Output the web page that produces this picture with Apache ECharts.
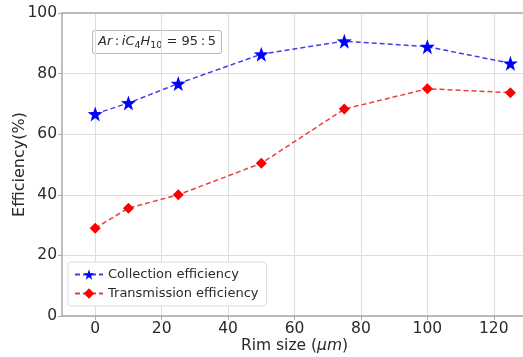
<!DOCTYPE html>
<html>
<head>
<meta charset="utf-8">
<script src="https://cdn.jsdelivr.net/npm/echarts@6/dist/echarts.min.js"></script>
<style>
  html, body { margin: 0; padding: 0; background: #fff; }
  #chart { width: 523px; height: 357px; }
</style>
</head>
<body>
<div id="chart"></div>
<script>
const rimSize = [0, 10, 25, 50, 75, 100, 125]
const collection = [66.7, 70.3, 76.7, 86.4, 90.7, 88.9, 83.4]
const transmission = [29.0, 35.6, 40.0, 50.4, 68.3, 75.0, 73.7]
const xTicks = [0, 20, 40, 60, 80, 100, 120]

const myChart = echarts.init(document.getElementById('chart'))

const axisText = { color: '#2a2a2a', fontSize: 15.5, fontFamily: 'DejaVu Sans' }
const spine = { color: '#aaa', width: 1.5 }

const option = {
  animation: false,
  grid: { left: 62, right: -4, top: 13, bottom: 41, outerBoundsMode: 'none', containLabel: false },
  xAxis: [
    {
      type: 'value',
      min: -10,
      max: 130,
      interval: 10,
      name: '{n|Rim size (}{i|μm}{n|)}',
      nameLocation: 'middle',
      nameGap: 22,
      nameMoveOverlap: false,
      nameTextStyle: {
        rich: {
          n: { fontSize: 15.5, color: '#2a2a2a', fontFamily: 'DejaVu Sans' },
          i: { fontSize: 15.5, color: '#2a2a2a', fontFamily: 'DejaVu Sans', fontStyle: 'italic' },
        },
      },
      axisLine: { onZero: false, lineStyle: spine },
      axisTick: { show: true, length: 4, lineStyle: { color: '#aaa' }, customValues: xTicks },
      axisLabel: { ...axisText, margin: 5, customValues: xTicks },
      splitLine: { lineStyle: { color: '#ddd', width: 1 } },
    },
    {
      type: 'value',
      position: 'top',
      min: -10,
      max: 130,
      axisLine: { show: true, onZero: false, lineStyle: spine },
      axisTick: { show: false },
      axisLabel: { show: false },
      splitLine: { show: false },
    },
  ],
  yAxis: {
    type: 'value',
    min: 0,
    max: 100,
    interval: 20,
    name: 'Efficiency(%)',
    nameLocation: 'middle',
    nameGap: 34,
    nameMoveOverlap: false,
    nameTextStyle: { ...axisText, fontSize: 16 },
    axisLine: { show: true, onZero: false, lineStyle: spine },
    axisTick: { show: true, length: 4, lineStyle: { color: '#aaa' } },
    axisLabel: { ...axisText, margin: 5 },
    splitLine: { lineStyle: { color: '#ddd', width: 1 } },
  },
  legend: {
    orient: 'vertical',
    left: 68,
    top: 262,
    padding: [6, 8, 6, 6],
    itemGap: 6,
    itemWidth: 28,
    itemHeight: 13,
    backgroundColor: '#fff',
    borderColor: '#ddd',
    borderWidth: 1,
    borderRadius: 3,
    textStyle: { color: '#2a2a2a', fontSize: 13, fontFamily: 'DejaVu Sans' },
    data: ['Collection efficiency', 'Transmission efficiency'],
  },
  graphic: [
    {
      type: 'text',
      left: 92,
      top: 30,
      style: {
        text: '{i|Ar}{n|\u2009:\u2009}{i|iC}{s|4}{i|H}{s|10}{n| = 95\u2009:\u20095}',
        backgroundColor: '#fff',
        borderColor: '#bbb',
        borderWidth: 1,
        borderRadius: 2,
        padding: [2, 5, 2, 5],
        rich: {
          n: { fontSize: 13, lineHeight: 18, fill: '#2a2a2a', fontFamily: 'DejaVu Sans' },
          i: { fontSize: 13, lineHeight: 18, fill: '#2a2a2a', fontFamily: 'DejaVu Sans', fontStyle: 'italic' },
          s: { fontSize: 9.5, lineHeight: 12, verticalAlign: 'bottom', fill: '#2a2a2a', fontFamily: 'DejaVu Sans' },
        },
      },
    },
  ],
  series: [
    {
      name: 'Collection efficiency',
      type: 'line',
      data: rimSize.map((x, i) => [x, collection[i]]),
      symbol: 'path://M0,-10 L2.35,-3.24 L9.51,-3.09 L3.8,1.24 L5.88,8.09 L0,4 L-5.88,8.09 L-3.8,1.24 L-9.51,-3.09 L-2.35,-3.24 Z',
      symbolSize: 15,
      itemStyle: { color: '#0000ff' },
      lineStyle: { color: '#4040e8', type: [5, 3], width: 1.5 },
    },
    {
      name: 'Transmission efficiency',
      type: 'line',
      data: rimSize.map((x, i) => [x, transmission[i]]),
      symbol: 'diamond',
      symbolSize: 11,
      itemStyle: { color: '#ff0000' },
      lineStyle: { color: '#e84040', type: [5, 3], width: 1.5 },
    },
  ],
}

myChart.setOption(option)
</script>
</body>
</html>
